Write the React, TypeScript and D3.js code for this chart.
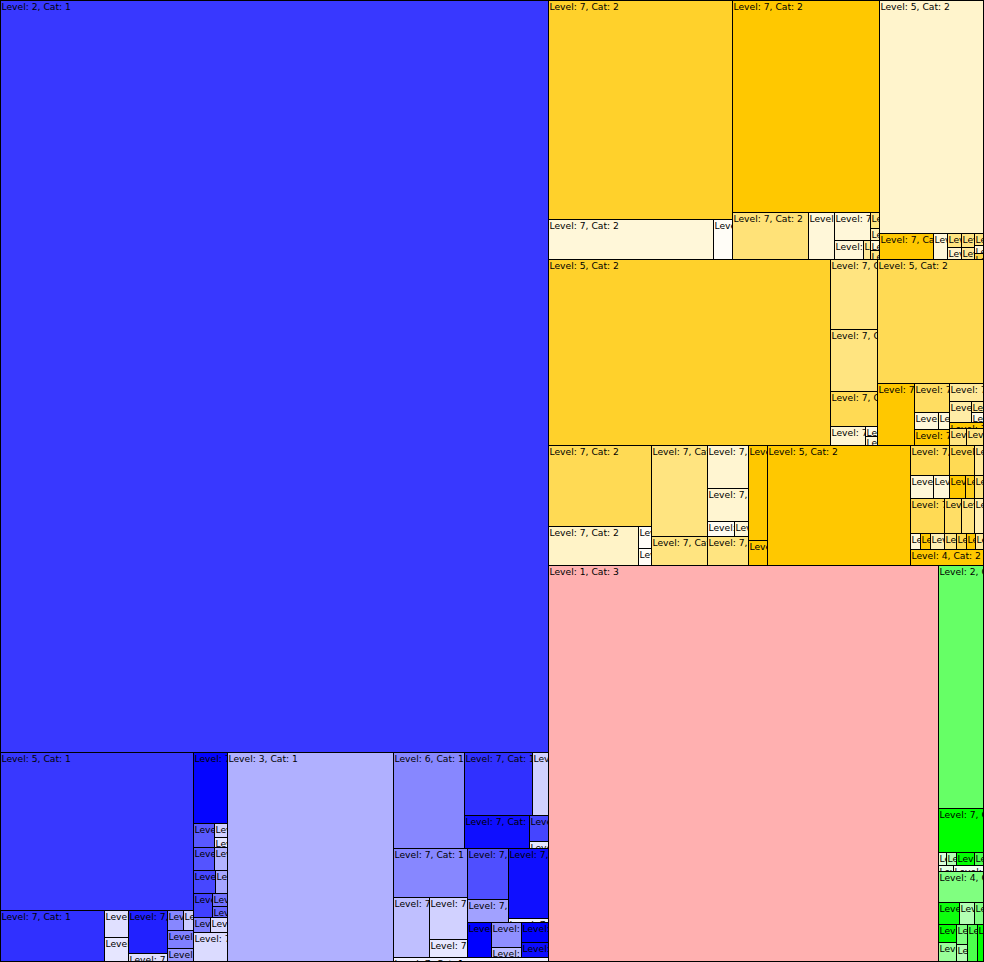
import * as d3 from "d3";

// leaf: [level, value, shade]   group: array of cells
type Leaf = [number, number, number];
type Cell = Leaf | Cell[];

const WIDTH = 983;
const HEIGHT = 961;

const categoryBase = ["#0000ff", "#ffc800", "#ff0000", "#00ff00"];

const catOneCells: Cell[] = [
  [2, 413397, 0.22],
  [
    [
      [
        [5, 30494, 0.22],
        [
          [7, 5304, 0.19],
          [[7, 648, 0.88], [7, 576, 0.9]],
          [[7, 1677, 0.13], [7, 312, 0.88]],
          [[[7, 320, 0.53], [7, 200, 0.8]], [[7, 468, 0.5], [7, 338, 0.6]]],
        ],
      ],
      [
        [7, 2414, 0.02],
        [[7, 504, 0.35], [[7, 182, 0.82], [7, 130, 0.9]]],
        [[7, 483, 0.33], [7, 299, 0.7]],
        [[7, 506, 0.28], [7, 276, 0.65]],
        [[7, 456, 0.25], [[7, 195, 0.45], [7, 165, 0.4]]],
        [[7, 255, 0.5], [7, 255, 0.85]],
        [7, 986, 0.86],
      ],
    ],
    [3, 34694, 0.69],
    [
      [
        [6, 6816, 0.53],
        [
          [[7, 4347, 0.19], [7, 1008, 0.82]],
          [[7, 2178, 0.06], [[7, 494, 0.27], [7, 133, 0.9]]],
        ],
      ],
      [
        [[7, 3626, 0.53], [[7, 2160, 0.75], [[7, 1596, 0.82], [7, 684, 0.91]]]],
        [
          [[[7, 2142, 0.31], [7, 966, 0.63]], [[7, 2800, 0.06], [7, 160, 0.95]]],
          [[7, 875, 0], [[7, 750, 0.56], [7, 300, 0.75]], [[7, 540, 0], [7, 405, 0.05]]],
        ],
      ],
      [7, 624, 0.95],
    ],
  ],
];

const catTwoCells: Cell[] = [
  [
    [[7, 40296, 0.17], [[7, 6600, 0.85], [7, 760, 0.97]]],
    [
      [7, 31164, 0],
      [
        [7, 3572, 0.47],
        [7, 1222, 0.85],
        [[7, 1008, 0.85], [[7, 551, 0.85], [7, 133, 0.6]]],
        [[7, 144, 0.5], [7, 108, 0.7], [7, 90, 0.85], [7, 81, 0.5]],
      ],
    ],
    [
      [5, 24232, 0.8],
      [
        [7, 1404, 0],
        [7, 364, 0.85],
        [[7, 196, 0.5], [7, 168, 0.8]],
        [[7, 182, 0.5], [7, 156, 0.6]],
        [[7, 108, 0.5], [7, 72, 0.85], [7, 54, 0.3]],
      ],
    ],
  ],
  [
    [5, 52452, 0.17],
    [[7, 3290, 0.5], [7, 2914, 0.5], [7, 1645, 0.33], [[7, 665, 0.82], [[7, 120, 0.9], [7, 108, 0.85]]]],
    [
      [5, 13144, 0.33],
      [
        [7, 2294, 0],
        [[7, 1015, 0.38], [[7, 408, 0.85], [7, 187, 0.85]], [7, 560, 0]],
        [
          [7, 612, 0.6],
          [[7, 462, 0.65], [[7, 132, 0.6], [7, 120, 0.9]]],
          [7, 204, 0],
          [[7, 289, 0.5], [7, 289, 0.5]],
        ],
      ],
    ],
  ],
  [
    [[7, 8446, 0.33], [[7, 3510, 0.78], [[7, 286, 0.97], [7, 221, 0.97]]]],
    [[7, 5152, 0.5], [7, 1624, 0.5]],
    [[7, 1804, 0.82], [7, 1353, 0.82], [[7, 405, 0.95], [7, 210, 0.85]], [7, 1189, 0.5]],
    [[7, 1824, 0], [7, 475, 0]],
    [5, 17303, 0],
    [
      [[7, 1170, 0.33], [7, 750, 0.33], [7, 270, 0.6]],
      [[7, 552, 0.85], [7, 384, 0.85], [7, 384, 0], [7, 216, 0.1], [7, 216, 0.5]],
      [[7, 1190, 0.33], [7, 595, 0.4], [7, 455, 0.5], [7, 315, 0.7]],
      [[7, 160, 0.85], [7, 160, 0], [7, 224, 0.7], [7, 192, 0.5], [7, 160, 0.3], [7, 144, 0], [7, 128, 0.6]],
      [4, 1168, 0],
    ],
  ],
];

const catThreeCell: Leaf = [1, 154440, 0.69];

const catFourCells: Cell[] = [
  [2, 10935, 0.4],
  [7, 1980, 0],
  [[7, 104, 0.85], [7, 130, 0.7], [7, 234, 0], [7, 117, 0.3]],
  [[7, 90, 0.9], [7, 180, 0.95]],
  [4, 1395, 0.5],
  [[7, 462, 0.05], [7, 330, 0.7], [7, 198, 0.5]],
  [[[7, 324, 0], [7, 342, 0.6]], [[7, 220, 0.5], [7, 187, 0.7]], [7, 370, 0.3], [7, 222, 0]],
];

function build(cell: Cell, cat: number): any {
  if (typeof cell[0] === "number") {
    const [level, value, shade] = cell as Leaf;
    return { level, value, shade, cat };
  }
  return { children: (cell as Cell[]).map((c) => build(c, cat)) };
}

// split along the longer side
const tile = (node: any, x0: number, y0: number, x1: number, y1: number) =>
  (x1 - x0 >= y1 - y0 ? d3.treemapDice : d3.treemapSlice)(node, x0, y0, x1, y1);

export default function App() {
  const tree = {
    children: [
      build(catOneCells, 1),
      {
        children: [
          build(catTwoCells, 2),
          { children: [build(catThreeCell, 3), build(catFourCells, 4)] },
        ],
      },
    ],
  };

  const root = d3.hierarchy<any>(tree).sum((d) => d.value || 0);
  d3.treemap<any>().size([WIDTH, HEIGHT]).tile(tile).round(true)(root);
  const leaves = root.leaves() as any[];

  const color = (d: any) =>
    d3.interpolateRgb(categoryBase[d.cat - 1], "#ffffff")(d.shade);

  return (
    <svg
      width={WIDTH + 1}
      height={HEIGHT + 1}
      style={{ position: "absolute", left: 0, top: 0, display: "block" }}
      fontFamily="DejaVu Sans"
      fontSize={9.2}
    >
      <defs>
        {leaves.map((d, i) => (
          <clipPath id={`cell-${i}`} key={i}>
            <rect
              x={d.x0 + 1}
              y={d.y0 + 1}
              width={Math.max(0, d.x1 - d.x0 - 1)}
              height={Math.max(0, d.y1 - d.y0 - 1)}
            />
          </clipPath>
        ))}
      </defs>
      {leaves.map((d, i) => (
        <g key={i}>
          <rect
            x={d.x0 + 0.5}
            y={d.y0 + 0.5}
            width={d.x1 - d.x0}
            height={d.y1 - d.y0}
            fill={color(d.data)}
            stroke="#000"
            strokeWidth={1}
            shapeRendering="crispEdges"
          />
          <text x={d.x0 + 1.5} y={d.y0 + 10} fill="#000" clipPath={`url(#cell-${i})`}>
            {`Level: ${d.data.level}, Cat: ${d.data.cat}`}
          </text>
        </g>
      ))}
    </svg>
  );
}
